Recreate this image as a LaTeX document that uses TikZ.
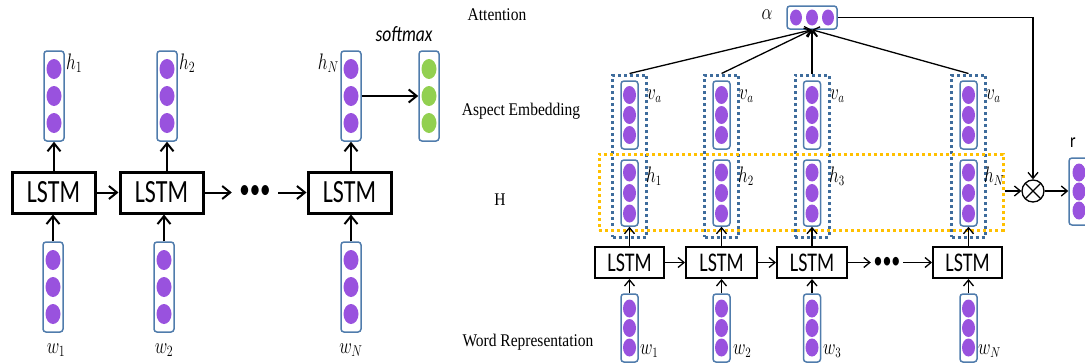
\documentclass[tikz,border=0pt]{standalone}
\usepackage{fontspec}
\usepackage{graphicx}
\setmainfont{Liberation Serif}
\newfontfamily\carl{Carlito}
\usetikzlibrary{arrows.meta,calc}

\definecolor{vecpurple}{RGB}{153,82,222}
\definecolor{vecgreen}{RGB}{146,208,80}
\definecolor{vecedge}{RGB}{80,124,172}
\definecolor{dotblue}{RGB}{62,108,156}
\definecolor{dotorange}{RGB}{255,192,0}

\tikzset{
  vbox/.style={draw=vecedge, line width=1.5pt, rounded corners=3pt, inner sep=0pt},
  lstmL/.style={draw, line width=3pt, minimum width=83pt, minimum height=41pt,
    inner sep=0pt, font=\carl\fontsize{24}{24}\selectfont},
  lstmR/.style={draw, line width=2pt, minimum height=31pt,
    inner sep=0pt, font=\carl\fontsize{20}{20}\selectfont},
  arrL/.style={-{Straight Barb[length=8pt,width=13pt]}, line width=2pt},
  arrR/.style={-{Straight Barb[length=6pt,width=10pt]}, line width=1.3pt},
  bdots/.style={draw=dotblue, line width=3pt, dash pattern=on 3pt off 3pt, inner sep=0pt},
  odots/.style={draw=dotorange, line width=3pt, dash pattern=on 3pt off 3pt, inner sep=0pt},
  side/.style={inner sep=0pt, font=\fontsize{15.5}{16}\selectfont},
  labL/.style={inner sep=0pt, font=\fontsize{18}{18}\selectfont},
  labR/.style={inner sep=0pt, font=\fontsize{16}{16}\selectfont},
  gap/.style={inner sep=0pt, minimum height=10pt},
}

% column vector: name, x, y, width, height, colour, spacing, x radius, y radius
\newcommand{\vvec}[9]{%
  \node[vbox, minimum width=#4pt, minimum height=#5pt] (#1) at (#2,#3) {};
  \foreach \k in {-1,0,1}{%
    \fill[#6] ($(#1.center)+(0,\k*#7)$) ellipse [x radius=#8pt, y radius=#9pt];}%
}
\newcommand{\mL}[1]{\scalebox{1}[1.3]{$#1$}}
\newcommand{\mR}[1]{\scalebox{1}[1.3]{$#1$}}
\newcommand{\tall}[1]{\scalebox{1}[1.35]{#1}}

\begin{document}
\begin{tikzpicture}[x=1pt, y=-1pt]
\useasboundingbox (0,0) rectangle (1085,364);

% ---------------- plain LSTM classifier ----------------
\vvec{h1}{54}{96}{20}{90}{vecpurple}{27}{7.5}{10}
\vvec{h2}{167}{96}{20}{90}{vecpurple}{27}{7.5}{10}
\vvec{hN}{351}{96}{20}{90}{vecpurple}{27}{7.5}{10}
\vvec{sm}{429}{96}{20}{90}{vecgreen}{27}{7.5}{10}
\vvec{w1}{53}{287}{20}{90}{vecpurple}{27}{7.5}{10}
\vvec{w2}{164}{287}{20}{90}{vecpurple}{27}{7.5}{10}
\vvec{wN}{351}{287}{20}{90}{vecpurple}{27}{7.5}{10}

\node[lstmL] (L1) at (53.5,192.5) {\tall{LSTM}};
\node[lstmL] (L2) at (161.5,192.5) {\tall{LSTM}};
\node[lstmL] (L3) at (349.5,192.5) {\tall{LSTM}};
\node[gap, minimum width=46pt, font=\carl\fontsize{21}{21}\selectfont] (gL) at (255,192.5) {\tall{•••}};

\draw[arrL] (L1.east) -- (L2.west);
\draw[arrL] (L2.east) -- (gL.west);
\draw[arrL] (gL.east) -- (L3.west);
\draw[arrL] (L1.north -| h1) -- (h1.south);
\draw[arrL] (L2.north -| h2) -- (h2.south);
\draw[arrL] (L3.north -| hN) -- (hN.south);
\draw[arrL] (w1.north) -- (w1.north |- L1.south);
\draw[arrL] (w2.north) -- (w2.north |- L2.south);
\draw[arrL] (wN.north) -- (wN.north |- L3.south);
\draw[arrL] (hN.east) -- (sm.west);

\node[labL, anchor=west] (th1) at (66,63) {\mL{h_1}};
\node[labL, anchor=west] (th2) at (179,63) {\mL{h_2}};
\node[labL, anchor=east] (thN) at (339,63) {\mL{h_N}};
\node[labL] (tw1) at (56,350) {\mL{w_1}};
\node[labL] (tw2) at (164,350) {\mL{w_2}};
\node[labL] (twN) at (351,350) {\mL{w_N}};
\node[inner sep=0pt, font=\carl\itshape\fontsize{17.5}{18}\selectfont] (tsm) at (404,34) {\scalebox{1}[1.25]{softmax}};

% ---------------- attention-based LSTM ----------------
\node[side] (sAtt) at (497,15) {\scalebox{1}[1.15]{Attention}};
\node[side] (sAsp) at (521,111) {\scalebox{1}[1.15]{Aspect Embedding}};
\node[side] (sH) at (500,200) {\scalebox{1}[1.15]{H}};
\node[side] (sWord) at (528,342) {\scalebox{1}[1.15]{Word Representation}};

% dotted groups: aspect embedding stacked on hidden state
\node[bdots, minimum width=34pt, minimum height=162pt] (d1) at (629.5,156) {};
\node[bdots, minimum width=34pt, minimum height=162pt] (d2) at (721.5,156) {};
\node[bdots, minimum width=34pt, minimum height=162pt] (d3) at (812,156) {};
\node[bdots, minimum width=34pt, minimum height=162pt] (d4) at (968.5,156) {};
\node[odots, minimum width=404pt, minimum height=76pt] (Hb) at (801,192) {};

\vvec{a1}{629.5}{115}{17}{68}{vecpurple}{20}{6.5}{9}
\vvec{a2}{721.5}{115}{17}{68}{vecpurple}{20}{6.5}{9}
\vvec{a3}{812}{115}{17}{68}{vecpurple}{20}{6.5}{9}
\vvec{a4}{968.5}{115}{17}{68}{vecpurple}{20}{6.5}{9}
\vvec{r1}{629.5}{193}{17}{66}{vecpurple}{20.5}{6.5}{9}
\vvec{r2}{721.5}{193}{17}{66}{vecpurple}{20.5}{6.5}{9}
\vvec{r3}{812}{193}{17}{66}{vecpurple}{20.5}{6.5}{9}
\vvec{r4}{968.5}{193}{17}{66}{vecpurple}{20.5}{6.5}{9}
\vvec{x1}{629.5}{328}{17}{68}{vecpurple}{19.5}{6.5}{9}
\vvec{x2}{721.5}{328}{17}{68}{vecpurple}{19.5}{6.5}{9}
\vvec{x3}{812}{328}{17}{68}{vecpurple}{19.5}{6.5}{9}
\vvec{x4}{968.5}{328}{17}{68}{vecpurple}{19.5}{6.5}{9}
\vvec{rv}{1079}{191.5}{20}{67}{vecpurple}{19}{6.5}{9}

\node[lstmR, minimum width=69pt] (R1) at (629.5,262.5) {\tall{LSTM}};
\node[lstmR, minimum width=71pt] (R2) at (721.5,262.5) {\tall{LSTM}};
\node[lstmR, minimum width=70pt] (R3) at (812,262.5) {\tall{LSTM}};
\node[lstmR, minimum width=69pt] (R4) at (967.5,262.5) {\tall{LSTM}};
\node[gap, minimum width=32pt, font=\carl\fontsize{18}{18}\selectfont] (gR) at (887,262.5) {\tall{•••}};

% attention weights
\node[vbox, minimum width=50pt, minimum height=23pt] (al) at (812,17.5) {};
\foreach \k in {-1,0,1}{\fill[vecpurple] ($(al.center)+(\k*16,0)$) ellipse [x radius=6pt, y radius=8pt];}
\node[labR] (tal) at (767,15) {\mR{\alpha}};

% weighted sum
\node[draw, circle, line width=1.3pt, minimum size=22pt, inner sep=0pt] (ot) at (1033,191) {};
\draw[line width=1.3pt] ($(ot.center)+(-7.8,-7.8)$) -- ($(ot.center)+(7.8,7.8)$);
\draw[line width=1.3pt] ($(ot.center)+(-7.8,7.8)$) -- ($(ot.center)+(7.8,-7.8)$);
\node[inner sep=0pt, font=\carl\fontsize{16}{16}\selectfont] (tr) at (1073,143) {\scalebox{1}[1.25]{r}};

\draw[arrR] (R1.east) -- (R2.west);
\draw[arrR] (R2.east) -- (R3.west);
\draw[arrR] (R3.east) -- (gR.west);
\draw[arrR] (gR.east) -- (R4.west);
\foreach \i in {1,2,3,4}{
  \draw[arrR] (R\i.north -| r\i) -- (r\i.south);
  \draw[arrR] (x\i.north) -- (x\i.north |- R\i.south);
  \draw[arrR] (d\i.north) -- (al.south);
}
\draw[arrR] (al.east) -| (ot.north);
\draw[arrR] (ot.west -| Hb.east) -- (ot.west);
\draw[arrR] (ot.east) -- (ot.east -| rv.west);

\foreach \i/\xx in {1/647,2/739,3/830,4/986}{
  \node[labR, anchor=west] (tv\i) at (\xx,96) {\mR{v_a}};
}
\node[labR, anchor=west] (tr1) at (646,176) {\mR{h_1}};
\node[labR, anchor=west] (tr2) at (738,176) {\mR{h_2}};
\node[labR, anchor=west] (tr3) at (829,176) {\mR{h_3}};
\node[labR, anchor=west] (tr4) at (984,176) {\mR{h_N}};
\node[labR, anchor=west] (tx1) at (640,351) {\mR{w_1}};
\node[labR, anchor=west] (tx2) at (733,351) {\mR{w_2}};
\node[labR, anchor=west] (tx3) at (823,351) {\mR{w_3}};
\node[labR, anchor=west] (tx4) at (978,351) {\mR{w_N}};
\end{tikzpicture}
\end{document}
